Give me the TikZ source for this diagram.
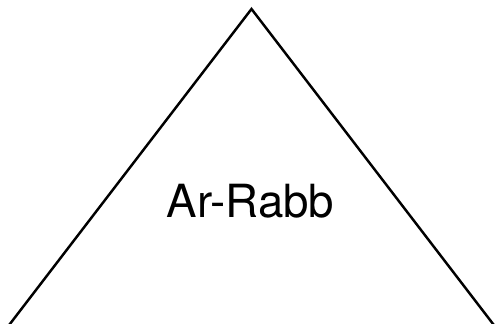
\documentclass[tikz,border=0pt]{standalone}
\usepackage{fontspec}
\setmainfont{TeX Gyre Heros}
\usepackage{tikz}

\begin{document}
\begin{tikzpicture}
  \useasboundingbox (0,0) rectangle (9.9,6.48);
  % the triangle, its base on the lower edge
  \draw[line width=1.4pt, line join=miter] (0.16,-0.05) -- (5.03,6.30) -- (9.90,-0.05);
  % the name
  \node[anchor=base, inner sep=0pt] (rabb) at (5.01,2.12) {\fontsize{26}{31}\selectfont Ar-Rabb};
\end{tikzpicture}
\end{document}
